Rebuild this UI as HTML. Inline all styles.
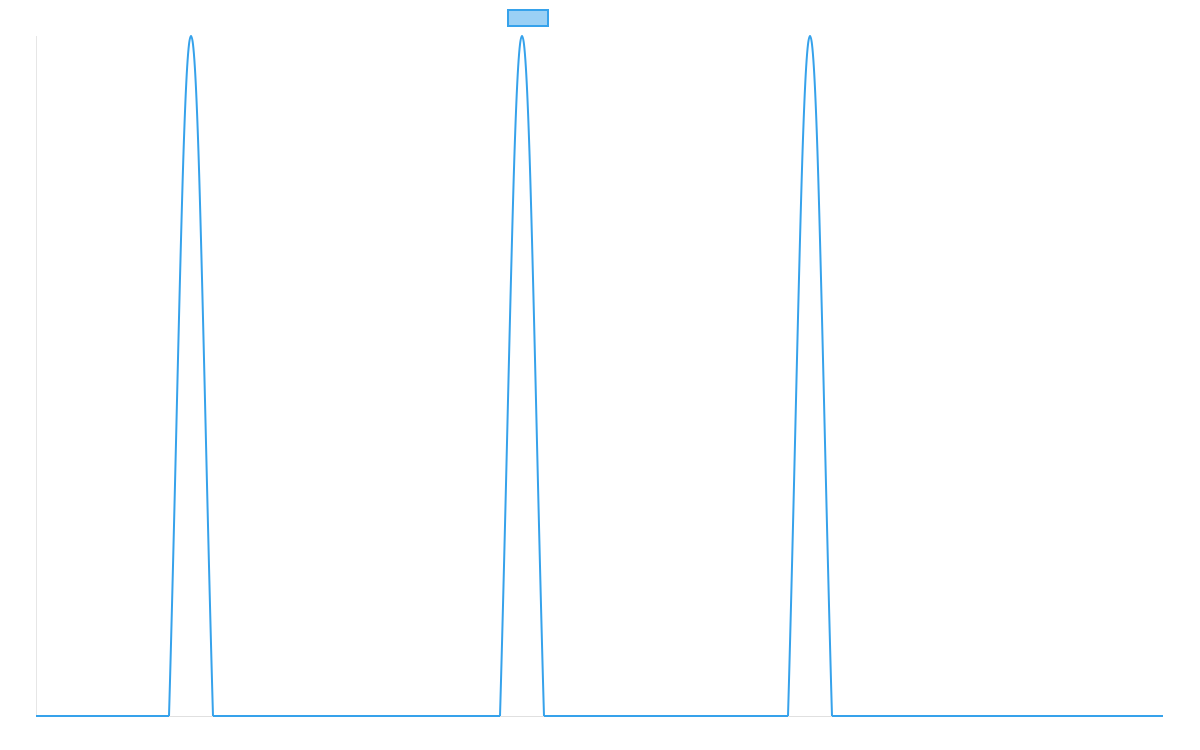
<!DOCTYPE html>
<html><head><meta charset="utf-8"><style>html,body{margin:0;padding:0;background:#fff;}svg{display:block}</style></head>
<body>
<svg width="1200" height="750" viewBox="0 0 1200 750" xmlns="http://www.w3.org/2000/svg">
<line x1="36.5" y1="36" x2="36.5" y2="717" stroke="#e6e6e6" stroke-width="1"/>
<line x1="36" y1="716.5" x2="1163" y2="716.5" stroke="#e0e0e0" stroke-width="1"/>
<rect x="508" y="10" width="40" height="16" fill="#9ad0f5" stroke="#36a2eb" stroke-width="2"/>
<defs>
<path id="pk" d="M-22,716 C-13.3,420 -7.9,36 0,36 C7.9,36 13.3,420 22,716"/>
</defs>
<g fill="none" stroke="#36a2eb" stroke-width="2" stroke-linejoin="round" stroke-linecap="butt">
<path d="M36,716 L169,716 M213,716 L500,716 M544,716 L788,716 M832,716 L1163,716"/>
<use href="#pk" transform="translate(191,0)"/>
<use href="#pk" transform="translate(522,0)"/>
<use href="#pk" transform="translate(810,0)"/>
</g>
</svg>
</body></html>
